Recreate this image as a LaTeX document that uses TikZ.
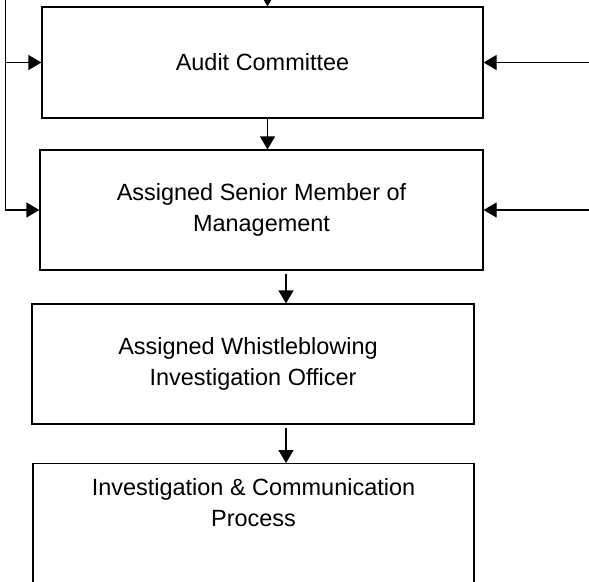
\documentclass[tikz,border=0pt]{standalone}
\usepackage{fontspec}
\setmainfont{Liberation Sans}
\usetikzlibrary{arrows.meta}
\tikzset{
  box/.style={draw,rectangle,line width=0.7pt,inner sep=0pt,align=center,
    font=\fontsize{13.35}{17.9}\selectfont},
  flow/.style={line width=0.7pt,-{Triangle[length=0.26cm,width=0.3cm]}}
}
\begin{document}
\begin{tikzpicture}
  \useasboundingbox (0,0) rectangle (11.78,11.62);
  \clip (0,0) rectangle (11.78,11.62);

  \node [box,minimum width=8.82cm,minimum height=2.22cm] (audit)
    at (5.25,10.37) {Audit Committee};

  \node [box,minimum width=8.86cm,minimum height=2.4cm] (senior)
    at (5.23,7.42) {Assigned Senior Member of\\Management};

  \node [box,minimum width=8.84cm,minimum height=2.4cm] (officer)
    at (5.06,4.34) {Assigned Whistleblowing\hspace*{0.2cm}\\Investigation Officer};

  \node [box,minimum width=8.82cm,minimum height=3cm,anchor=north] (process)
    at (5.07,2.36) {};
  \node [anchor=north,align=center,font=\fontsize{13.35}{17.9}\selectfont]
    (processtext) at ([yshift=-0.18cm]process.north)
    {Investigation \& Communication\\Process};

  % arrows down the chain
  \coordinate (tin) at ([xshift=0.1cm]audit.north);
  \draw [flow] ([yshift=1cm]tin) -- (tin);

  \coordinate (t1) at ([xshift=0.1cm]audit.south);
  \draw [flow] (t1) -- (t1 |- senior.north);

  \coordinate (t2) at ([xshift=0.49cm,yshift=-0.06cm]senior.south);
  \draw [flow] (t2) -- (t2 |- officer.north);

  \coordinate (t3) at ([xshift=0.66cm,yshift=-0.06cm]officer.south);
  \draw [flow] (t3) -- (t3 |- process.north);

  % side inputs
  \coordinate (ltop) at (0.11,12);
  \draw [flow] (ltop) |- (senior.west);
  \draw [flow] (ltop |- audit.west) -- (audit.west);

  \coordinate (rside) at (12,0);
  \draw [flow] (rside |- audit.east) -- (audit.east);
  \draw [flow] (rside |- senior.east) -- (senior.east);
\end{tikzpicture}
\end{document}
